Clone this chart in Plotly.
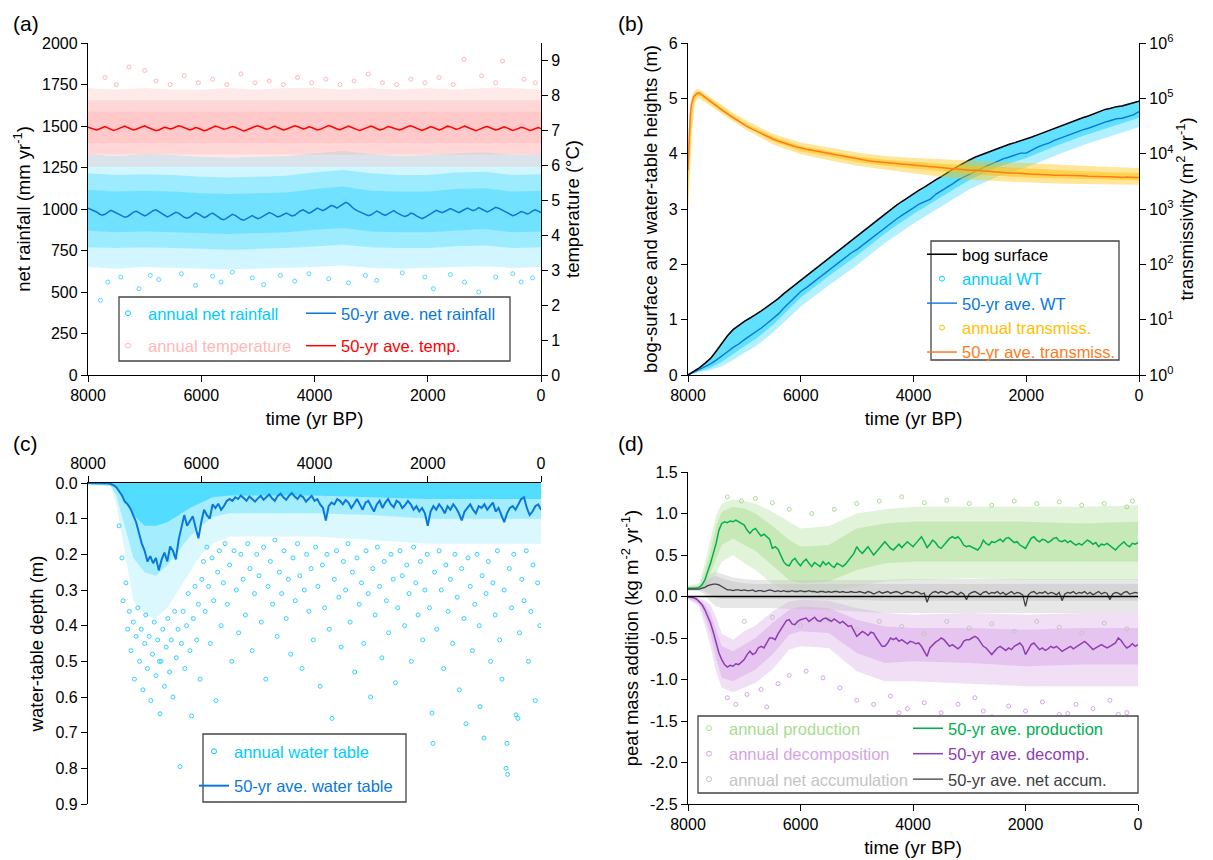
import plotly.graph_objects as go

W, H = 1213, 860
FONT = "Liberation Sans, Arial, sans-serif"

# ---------------- DATA ----------------
years50 = list(range(8000, -1, -50))     # 161 points
years100 = list(range(8000, -1, -100))   # 81 points

# (a) 50-yr average net rainfall (mm/yr)
rain_50yr = [
    1005, 998, 990, 982, 970, 962, 968, 980, 992, 985,
    975, 968, 958, 950, 955, 968, 980, 988, 978, 965,
    958, 966, 978, 990, 995, 985, 972, 960, 952, 960,
    972, 980, 975, 962, 950, 945, 952, 965, 978, 970,
    958, 948, 955, 968, 975, 966, 952, 940, 935, 945,
    958, 968, 962, 950, 938, 932, 940, 952, 960, 950,
    942, 948, 958, 970, 978, 972, 960, 952, 958, 968,
    975, 968, 958, 962, 975, 988, 995, 985, 975, 982,
    995, 1005, 998, 990, 1000, 1012, 1022, 1015, 1005, 1018,
    1030, 1040, 1032, 1015, 1000, 990, 982, 975, 968, 960,
    965, 975, 988, 980, 968, 962, 970, 982, 990, 978,
    968, 960, 955, 962, 975, 970, 958, 948, 942, 950,
    960, 972, 985, 992, 985, 978, 985, 995, 1002, 995,
    985, 978, 988, 998, 1005, 998, 990, 996, 1008, 1000,
    990, 982, 990, 1002, 1010, 1005, 995, 985, 975, 968,
    960, 965, 975, 985, 980, 970, 975, 988, 995, 985,
    978]

# (a) 50-yr average temperature (deg C)
temp_50yr = [
    7.08, 7.05, 7.02, 7.00, 7.03, 7.07, 7.10, 7.06, 7.02, 6.99,
    7.01, 7.05, 7.09, 7.11, 7.07, 7.03, 7.00, 7.02, 7.06, 7.10,
    7.12, 7.08, 7.04, 7.01, 6.98, 7.00, 7.04, 7.08, 7.06, 7.03,
    7.05, 7.09, 7.12, 7.10, 7.06, 7.02, 7.00, 7.03, 7.07, 7.05,
    7.01, 6.98, 7.00, 7.04, 7.08, 7.11, 7.09, 7.05, 7.02, 7.04,
    7.07, 7.10, 7.08, 7.04, 7.00, 6.97, 7.00, 7.04, 7.07, 7.10,
    7.12, 7.09, 7.05, 7.02, 7.04, 7.08, 7.11, 7.07, 7.03, 7.00,
    7.02, 7.06, 7.09, 7.12, 7.10, 7.06, 7.03, 7.05, 7.09, 7.07,
    7.03, 7.00, 7.02, 7.06, 7.10, 7.13, 7.10, 7.06, 7.03, 7.01,
    7.04, 7.08, 7.11, 7.08, 7.04, 7.01, 6.99, 7.02, 7.06, 7.09,
    7.11, 7.08, 7.04, 7.00, 7.02, 7.06, 7.10, 7.08, 7.05, 7.02,
    7.00, 7.03, 7.07, 7.10, 7.12, 7.09, 7.05, 7.01, 6.99, 7.02,
    7.06, 7.09, 7.07, 7.03, 7.00, 7.03, 7.07, 7.11, 7.09, 7.05,
    7.02, 7.04, 7.08, 7.11, 7.08, 7.04, 7.01, 6.98, 7.01, 7.05,
    7.08, 7.10, 7.07, 7.03, 7.00, 7.02, 7.06, 7.09, 7.06, 7.02,
    6.99, 7.01, 7.05, 7.08, 7.06, 7.02, 6.99, 7.01, 7.04, 7.07,
    7.04]

# (a) annual clouds: envelope of the scattered annual values
band_a_t = [8000, 7500, 7000, 6500, 6000, 5500, 5000, 4500, 4000, 3500, 3000, 2500, 2000, 1500, 1000, 500, 0]
rain_outer_lo = [650, 640, 650, 645, 640, 635, 640, 645, 650, 660, 645, 640, 645, 650, 655, 645, 650]
rain_outer_hi = [1330, 1320, 1330, 1325, 1315, 1310, 1315, 1320, 1335, 1350, 1330, 1320, 1325, 1335, 1340, 1325, 1330]
rain_mid_lo = [770, 765, 770, 765, 760, 755, 760, 765, 775, 785, 770, 765, 765, 775, 780, 765, 770]
rain_mid_hi = [1215, 1205, 1210, 1205, 1195, 1190, 1195, 1200, 1220, 1235, 1215, 1205, 1205, 1220, 1225, 1205, 1210]
rain_in_lo = [870, 860, 865, 860, 855, 850, 855, 860, 875, 885, 865, 860, 860, 870, 880, 860, 865]
rain_in_hi = [1115, 1105, 1110, 1105, 1095, 1090, 1095, 1100, 1120, 1135, 1110, 1105, 1105, 1120, 1125, 1105, 1110]
temp_outer_lo = [5.95] * 17
temp_outer_hi = [8.2, 8.15, 8.2, 8.15, 8.15, 8.2, 8.15, 8.2, 8.2, 8.15, 8.2, 8.15, 8.2, 8.15, 8.2, 8.2, 8.15]
temp_mid_lo = [6.3] * 17
temp_mid_hi = [7.85] * 17
temp_in_lo = [6.62] * 17
temp_in_hi = [7.52] * 17
rain_out_t = [7780, 7650, 7420, 7100, 6900, 6750, 6350, 6100, 5800, 5650, 5450, 5100, 4900, 4600, 4350,
              4100, 3750, 3400, 3100, 2900, 2450, 2050, 1900, 1600, 1350, 1100, 800, 500, 350, 150]
rain_out_v = [450, 560, 590, 520, 600, 575, 610, 540, 595, 560, 620, 585, 545, 600, 565,
              610, 580, 555, 600, 570, 615, 590, 520, 605, 560, 500, 590, 610, 560, 585]
temp_out_t = [7700, 7500, 7276, 7000, 6800, 6550, 6300, 6050, 5800, 5550, 5300, 5050, 4800, 4550, 4300, 4050,
              3800, 3550, 3300, 3050, 2800, 2550, 2300, 2050, 1800, 1550, 1360, 1050, 800, 680, 300, 100]
temp_out_v = [8.5, 8.3, 8.8, 8.7, 8.4, 8.3, 8.55, 8.35, 8.45, 8.3, 8.6, 8.35, 8.4, 8.3, 8.5, 8.35,
              8.45, 8.3, 8.4, 8.6, 8.35, 8.3, 8.45, 8.35, 8.5, 8.3, 9.02, 8.55, 8.35, 8.97, 8.45, 8.35]

# (b) bog surface and 50-yr water table heights (m), 100-yr steps
surface_100 = [
    0.00, 0.06, 0.13, 0.21, 0.30, 0.43, 0.58, 0.71, 0.82, 0.90,
    0.97, 1.03, 1.09, 1.16, 1.23, 1.30, 1.38, 1.47, 1.55, 1.63,
    1.72, 1.80, 1.88, 1.96, 2.04, 2.12, 2.20, 2.28, 2.36, 2.44,
    2.52, 2.60, 2.68, 2.76, 2.84, 2.92, 3.00, 3.07, 3.14, 3.21,
    3.27, 3.34, 3.40, 3.47, 3.53, 3.59, 3.66, 3.72, 3.78, 3.84,
    3.89, 3.94, 3.98, 4.02, 4.06, 4.10, 4.14, 4.17, 4.20, 4.23,
    4.26, 4.30, 4.34, 4.38, 4.42, 4.46, 4.50, 4.54, 4.57, 4.61,
    4.65, 4.68, 4.72, 4.76, 4.80, 4.82, 4.85, 4.86, 4.89, 4.91,
    4.95]
wt_50yr_100 = [
    0.00, 0.05, 0.10, 0.15, 0.20, 0.27, 0.34, 0.42, 0.50, 0.56,
    0.64, 0.71, 0.77, 0.85, 0.93, 1.01, 1.10, 1.21, 1.31, 1.42,
    1.51, 1.58, 1.66, 1.74, 1.82, 1.90, 1.98, 2.05, 2.13, 2.21,
    2.27, 2.35, 2.43, 2.51, 2.59, 2.67, 2.74, 2.82, 2.89, 2.95,
    3.02, 3.09, 3.14, 3.18, 3.27, 3.33, 3.40, 3.46, 3.53, 3.58,
    3.64, 3.69, 3.74, 3.78, 3.82, 3.87, 3.91, 3.94, 3.97, 4.01,
    4.01, 4.07, 4.12, 4.16, 4.19, 4.24, 4.28, 4.31, 4.35, 4.39,
    4.43, 4.46, 4.50, 4.53, 4.57, 4.60, 4.63, 4.64, 4.67, 4.70,
    4.76]
band_wt_t = [8000, 7800, 7600, 7400, 7200, 7000, 6800, 6500, 6000, 5500, 5000,
             4500, 4000, 3500, 3000, 2500, 2000, 1500, 1000, 500, 0]
wt_band_hi = [0.0, 0.14, 0.31, 0.6, 0.84, 0.98, 1.1, 1.31, 1.73, 2.13, 2.53,
              2.93, 3.28, 3.6, 3.9, 4.11, 4.27, 4.47, 4.66, 4.83, 4.96]
wt_band_lo = [0.0, 0.07, 0.13, 0.24, 0.38, 0.52, 0.65, 0.9, 1.4, 1.79, 2.16,
              2.56, 2.91, 3.22, 3.53, 3.76, 3.92, 4.13, 4.32, 4.49, 4.65]
wt_band_outer_lo = [0.0, 0.05, 0.09, 0.16, 0.27, 0.4, 0.52, 0.76, 1.24, 1.62, 1.99,
                    2.39, 2.74, 3.05, 3.36, 3.59, 3.75, 3.96, 4.15, 4.32, 4.48]

# (b) transmissivity (log10 of m2/yr)
t_trans = [8000, 7980, 7960, 7940, 7920, 7900, 7850, 7800, 7750, 7700] + list(range(7600, -1, -100))
log_trans_50yr = [
    3.70, 4.35, 4.70, 4.88, 4.98, 5.03, 5.08, 5.10, 5.06, 5.02,
    4.94, 4.86, 4.79, 4.72, 4.65, 4.58, 4.52, 4.46, 4.41, 4.36,
    4.31, 4.27, 4.23, 4.19, 4.16, 4.13, 4.10, 4.08, 4.06, 4.04,
    4.02, 4.00, 3.98, 3.96, 3.94, 3.92, 3.90, 3.89, 3.87, 3.86,
    3.85, 3.84, 3.83, 3.82, 3.81, 3.80, 3.79, 3.78, 3.78, 3.77,
    3.76, 3.75, 3.74, 3.73, 3.72, 3.71, 3.70, 3.70, 3.69, 3.68,
    3.67, 3.67, 3.66, 3.65, 3.65, 3.64, 3.64, 3.63, 3.63, 3.62,
    3.62, 3.61, 3.61, 3.61, 3.60, 3.60, 3.60, 3.59, 3.59, 3.59,
    3.58, 3.58, 3.58, 3.57, 3.58, 3.57, 3.57]
band_tr_t = [8000, 7950, 7900, 7850, 7800, 7600, 7400, 7200, 7000, 6500, 6000, 5500,
             5000, 4500, 4000, 3500, 3000, 2500, 2000, 1500, 1000, 500, 0]
tr_outer_lo = [2.9, 4.0, 4.8, 4.98, 5.0, 4.86, 4.72, 4.58, 4.45, 4.17, 3.99, 3.88,
               3.78, 3.71, 3.65, 3.58, 3.53, 3.50, 3.48, 3.46, 3.45, 3.44, 3.44]
tr_outer_hi = [4.2, 4.95, 5.12, 5.17, 5.16, 5.02, 4.88, 4.74, 4.62, 4.36, 4.2, 4.11,
               4.02, 3.96, 3.92, 3.9, 3.87, 3.85, 3.83, 3.8, 3.78, 3.76, 3.74]
tr_in_lo = [3.2, 4.3, 4.9, 5.03, 5.05, 4.9, 4.76, 4.62, 4.5, 4.23, 4.05, 3.95,
            3.85, 3.78, 3.73, 3.68, 3.63, 3.6, 3.57, 3.55, 3.54, 3.53, 3.52]
tr_in_hi = [3.9, 4.8, 5.06, 5.12, 5.13, 4.98, 4.84, 4.69, 4.56, 4.31, 4.14, 4.04,
            3.95, 3.89, 3.85, 3.82, 3.79, 3.76, 3.73, 3.7, 3.68, 3.66, 3.65]

# (c) 50-yr average water-table depth (m)
wtd_50yr = [
    0, 0, 0, 0, 0, 0, 0, 0.001, 0.003, 0.006,
    0.012, 0.022, 0.035, 0.052, 0.06, 0.072, 0.09, 0.11, 0.14, 0.17,
    0.19, 0.22, 0.205, 0.225, 0.21, 0.245, 0.215, 0.195, 0.22, 0.178,
    0.19, 0.214, 0.16, 0.12, 0.09, 0.12, 0.105, 0.093, 0.125, 0.155,
    0.11, 0.075, 0.09, 0.1, 0.06, 0.07, 0.058, 0.075, 0.065, 0.05,
    0.045, 0.05, 0.04, 0.045, 0.035, 0.043, 0.05, 0.038, 0.045, 0.052,
    0.043, 0.036, 0.047, 0.04, 0.032, 0.043, 0.05, 0.036, 0.03, 0.04,
    0.047, 0.036, 0.028, 0.038, 0.045, 0.034, 0.04, 0.052, 0.043, 0.036,
    0.05, 0.045, 0.06, 0.07, 0.105, 0.065, 0.055, 0.06, 0.045, 0.05,
    0.06, 0.048, 0.055, 0.07, 0.058, 0.045, 0.06, 0.075, 0.055, 0.05,
    0.065, 0.08, 0.06, 0.05, 0.07, 0.055, 0.045, 0.06, 0.068, 0.05,
    0.055, 0.07, 0.062, 0.05, 0.06, 0.075, 0.065, 0.08, 0.07, 0.085,
    0.12, 0.08, 0.065, 0.075, 0.06, 0.07, 0.085, 0.065, 0.075, 0.06,
    0.07, 0.085, 0.105, 0.08, 0.07, 0.06, 0.075, 0.085, 0.065, 0.07,
    0.06, 0.075, 0.065, 0.055, 0.08, 0.07, 0.09, 0.11, 0.085, 0.07,
    0.065, 0.075, 0.06, 0.045, 0.04, 0.07, 0.09, 0.08, 0.065, 0.06,
    0.075]
band_c_t = [8000, 7600, 7500, 7400, 7300, 7200, 7000, 6800, 6600, 6400, 6200, 6000,
            5800, 5500, 5000, 4000, 3000, 2000, 1000, 0]
wtd_dense_lo = [0.004, 0.006, 0.015, 0.035, 0.06, 0.09, 0.12, 0.12, 0.11, 0.09, 0.07, 0.055,
                0.04, 0.035, 0.035, 0.035, 0.04, 0.045, 0.045, 0.045]
wtd_mid_lo = [0.004, 0.008, 0.035, 0.09, 0.15, 0.21, 0.25, 0.26, 0.23, 0.19, 0.15, 0.12,
              0.095, 0.085, 0.085, 0.085, 0.09, 0.1, 0.1, 0.1]
wtd_outer_lo = [0.004, 0.01, 0.06, 0.15, 0.25, 0.33, 0.37, 0.38, 0.35, 0.3, 0.25, 0.2,
                0.17, 0.15, 0.15, 0.15, 0.16, 0.17, 0.17, 0.17]
wtd_pts_t = [7450, 7400, 7380, 7330, 7300, 7270, 7240, 7200, 7180, 7150, 7120, 7090, 7060, 7030, 7000,
             6980, 6950, 6920, 6890, 6860, 6830, 6800, 6770, 6740, 6728, 6710, 6680, 6650, 6620, 6590,
             6560, 6530, 6500, 6470, 6440, 6410, 6375, 6350, 6320, 6290, 6260, 6230, 6200, 6171, 6140,
             6110, 6080, 6050, 6020, 5990,
             5960, 5930, 5900, 5870, 5840, 5810, 5780, 5740, 5710, 5680, 5650, 5610, 5580, 5540, 5500,
             5460, 5420, 5380, 5340, 5300, 5260, 5220, 5180, 5140, 5100, 5060, 5020, 4980, 4940, 4900,
             4860, 4820, 4780, 4740, 4700, 4660, 4620, 4580, 4540, 4500, 4460, 4420, 4380, 4340, 4300,
             4260, 4220, 4180, 4140, 4100, 4060, 4020, 3980, 3940, 3900, 3860, 3820, 3780, 3740, 3690,
             3650, 3610, 3570, 3530, 3490, 3450, 3410, 3370, 3330, 3290, 3250, 3210, 3170, 3130, 3090,
             3050, 3010, 2970, 2930, 2890, 2850, 2810, 2770, 2730, 2690, 2650, 2610, 2570, 2530, 2490,
             2450, 2410, 2370, 2330, 2290, 2250, 2210, 2170, 2130, 2090, 2050, 2010, 1970, 1925, 1907,
             1880, 1840, 1800, 1760, 1720, 1680, 1640, 1600, 1560, 1520, 1480, 1440, 1400, 1360, 1325,
             1290, 1250, 1210, 1170, 1130, 1090, 1077, 1040, 1006, 970, 930, 890, 850, 810, 770,
             730, 690, 650, 618, 600, 590, 560, 520, 480, 442, 407, 380, 340, 300, 260,
             220, 180, 140, 100, 60, 20]
wtd_pts_v = [0.12, 0.21, 0.33, 0.28, 0.41, 0.36, 0.47, 0.39, 0.55, 0.43, 0.35, 0.5, 0.41, 0.58, 0.45,
             0.37, 0.52, 0.43, 0.61, 0.48, 0.39, 0.54, 0.44, 0.5, 0.647, 0.5, 0.41, 0.57, 0.46, 0.38,
             0.53, 0.44, 0.6, 0.36, 0.49, 0.41, 0.795, 0.45, 0.36, 0.52, 0.4, 0.31, 0.47, 0.653, 0.38,
             0.29, 0.44, 0.34, 0.55, 0.27,
             0.22, 0.36, 0.18, 0.29, 0.45, 0.21, 0.33, 0.61, 0.25, 0.19, 0.4, 0.28, 0.17, 0.34, 0.23,
             0.5, 0.19, 0.3, 0.42, 0.2, 0.27, 0.37, 0.17, 0.24, 0.47, 0.31, 0.2, 0.26, 0.39, 0.18,
             0.55, 0.29, 0.22, 0.34, 0.16, 0.43, 0.25, 0.31, 0.19, 0.38, 0.27, 0.48, 0.21, 0.33, 0.17,
             0.26, 0.52, 0.3, 0.2, 0.36, 0.24, 0.44, 0.18, 0.29, 0.57, 0.23, 0.35, 0.2, 0.41, 0.66,
             0.27, 0.19, 0.32, 0.46, 0.22, 0.3, 0.17, 0.39, 0.25, 0.53, 0.21, 0.34, 0.28, 0.45, 0.19,
             0.31, 0.6, 0.24, 0.37, 0.18, 0.29, 0.49, 0.22, 0.33, 0.42, 0.2, 0.27, 0.56, 0.35, 0.19,
             0.26, 0.4, 0.23, 0.31, 0.5, 0.18, 0.28, 0.37, 0.22, 0.44, 0.3, 0.2, 0.35, 0.645, 0.73,
             0.25, 0.41, 0.19, 0.3, 0.52, 0.23, 0.36, 0.27, 0.45, 0.2, 0.32, 0.58, 0.24, 0.38, 0.675,
             0.21, 0.29, 0.47, 0.34, 0.2, 0.4, 0.627, 0.26, 0.715, 0.31, 0.22, 0.5, 0.28, 0.37, 0.19,
             0.44, 0.55, 0.3, 0.8, 0.73, 0.817, 0.24, 0.35, 0.2, 0.65, 0.66, 0.42, 0.27, 0.33, 0.19,
             0.5, 0.36, 0.23, 0.61, 0.28, 0.4]

# (d) 50-yr average peat mass fluxes (kg m-2 yr-1)
prod_50yr = [
    0.10, 0.10, 0.10, 0.10, 0.11, 0.14, 0.20, 0.29, 0.40, 0.52,
    0.64, 0.80, 0.88, 0.90, 0.89, 0.91, 0.90, 0.92, 0.90, 0.88,
    0.86, 0.80, 0.76, 0.80, 0.82, 0.77, 0.73, 0.75, 0.72, 0.69,
    0.58, 0.60, 0.57, 0.50, 0.42, 0.38, 0.37, 0.43, 0.46, 0.41,
    0.37, 0.42, 0.45, 0.40, 0.36, 0.41, 0.39, 0.36, 0.42, 0.38,
    0.41, 0.37, 0.35, 0.40, 0.38, 0.36, 0.39, 0.43, 0.47, 0.52,
    0.60, 0.55, 0.52, 0.56, 0.60, 0.55, 0.50, 0.54, 0.58, 0.63,
    0.66, 0.62, 0.58, 0.56, 0.60, 0.63, 0.59, 0.62, 0.66, 0.63,
    0.60, 0.64, 0.68, 0.72, 0.66, 0.59, 0.63, 0.68, 0.65, 0.60,
    0.58, 0.62, 0.66, 0.70, 0.72, 0.70, 0.72, 0.68, 0.62, 0.60,
    0.61, 0.59, 0.58, 0.56, 0.60, 0.68, 0.64, 0.62, 0.66, 0.65,
    0.67, 0.69, 0.66, 0.70, 0.71, 0.68, 0.65, 0.66, 0.62, 0.60,
    0.58, 0.64, 0.70, 0.72, 0.68, 0.66, 0.69, 0.68, 0.65, 0.67,
    0.70, 0.71, 0.67, 0.66, 0.68, 0.65, 0.67, 0.64, 0.62, 0.64,
    0.62, 0.65, 0.68, 0.66, 0.63, 0.65, 0.60, 0.63, 0.62, 0.64,
    0.61, 0.59, 0.56, 0.60, 0.63, 0.66, 0.62, 0.60, 0.64, 0.63,
    0.65]
decomp_50yr = [
    -0.005, -0.01, -0.015, -0.03, -0.06, -0.10, -0.16, -0.23, -0.32, -0.43,
    -0.56, -0.68, -0.76, -0.82, -0.85, -0.83, -0.84, -0.81, -0.82, -0.79,
    -0.76, -0.70, -0.66, -0.70, -0.68, -0.62, -0.60, -0.62, -0.56, -0.50,
    -0.50, -0.52, -0.45, -0.40, -0.34, -0.29, -0.28, -0.33, -0.34, -0.30,
    -0.28, -0.27, -0.26, -0.30, -0.27, -0.25, -0.29, -0.30, -0.27, -0.26,
    -0.28, -0.30, -0.27, -0.29, -0.32, -0.30, -0.33, -0.36, -0.35, -0.42,
    -0.48, -0.45, -0.42, -0.44, -0.47, -0.43, -0.44, -0.50, -0.55, -0.60,
    -0.60, -0.56, -0.50, -0.52, -0.50, -0.54, -0.52, -0.55, -0.57, -0.54,
    -0.55, -0.57, -0.56, -0.60, -0.66, -0.72, -0.62, -0.58, -0.55, -0.53,
    -0.50, -0.52, -0.56, -0.60, -0.58, -0.60, -0.63, -0.60, -0.54, -0.52,
    -0.52, -0.50, -0.48, -0.50, -0.55, -0.60, -0.62, -0.66, -0.70, -0.66,
    -0.62, -0.60, -0.63, -0.65, -0.62, -0.64, -0.60, -0.58, -0.56, -0.60,
    -0.70, -0.64, -0.58, -0.56, -0.60, -0.64, -0.62, -0.65, -0.63, -0.60,
    -0.62, -0.60, -0.63, -0.66, -0.64, -0.62, -0.60, -0.63, -0.61, -0.58,
    -0.56, -0.54, -0.57, -0.60, -0.64, -0.62, -0.60, -0.58, -0.60, -0.62,
    -0.60, -0.58, -0.56, -0.50, -0.53, -0.58, -0.62, -0.60, -0.57, -0.60,
    -0.58]
netacc_50yr = [
    0.09, 0.09, 0.09, 0.09, 0.09, 0.10, 0.11, 0.13, 0.14, 0.15,
    0.15, 0.14, 0.12, 0.10, 0.08, 0.08, 0.07, 0.08, 0.08, 0.07,
    0.08, 0.07, 0.07, 0.08, 0.06, 0.07, 0.07, 0.06, 0.07, 0.08,
    0.07, 0.06, 0.07, 0.06, 0.07, 0.06, 0.06, 0.07, 0.06, 0.06,
    0.07, 0.06, 0.06, 0.07, 0.06, 0.06, 0.05, 0.06, 0.06, 0.05,
    0.06, 0.05, 0.06, 0.06, 0.05, 0.06, 0.05, 0.05, 0.06, 0.05,
    0.05, 0.06, 0.05, 0.04, 0.06, 0.05, 0.03, 0.05, 0.06, 0.04,
    0.05, 0.06, 0.04, 0.05, 0.06, 0.05, 0.03, 0.05, 0.06, 0.05,
    0.04, 0.06, 0.05, 0.03, 0.04, -0.07, 0.02, 0.05, 0.06, 0.04,
    0.06, 0.05, 0.03, 0.05, 0.06, 0.04, 0.02, 0.05, 0.03, -0.04,
    0.03, 0.05, 0.06, 0.04, 0.02, 0.05, 0.06, 0.03, 0.05, 0.04,
    0.06, 0.03, 0.05, 0.02, 0.04, 0.06, 0.03, 0.05, 0.04, 0.02,
    -0.12, 0.02, 0.05, 0.06, 0.03, 0.05, 0.04, 0.06, 0.03, 0.05,
    0.04, 0.02, 0.05, -0.05, 0.03, 0.05, 0.04, 0.06, 0.03, 0.05,
    0.04, 0.06, 0.03, 0.05, 0.02, 0.04, 0.06, 0.03, 0.05, 0.04,
    -0.04, 0.03, 0.05, 0.04, 0.02, 0.05, 0.06, 0.03, 0.04, 0.05,
    0.04]
band_d_t = [8000, 7800, 7700, 7600, 7500, 7400, 7200, 7000, 6800, 6500, 6200, 6000,
            5500, 5000, 4500, 4000, 3000, 2000, 1000, 0]
prod_in_lo = [0.08, 0.08, 0.12, 0.28, 0.45, 0.62, 0.7, 0.62, 0.55, 0.38, 0.2, 0.16, 0.18, 0.32, 0.4, 0.42, 0.42, 0.42, 0.42, 0.42]
prod_in_hi = [0.12, 0.13, 0.3, 0.55, 0.85, 1.02, 1.08, 1.06, 1.0, 0.85, 0.68, 0.6, 0.62, 0.82, 0.88, 0.9, 0.9, 0.9, 0.88, 0.9]
prod_out_lo = [0.07, 0.07, 0.09, 0.15, 0.28, 0.42, 0.5, 0.4, 0.32, 0.15, 0.05, 0.03, 0.05, 0.12, 0.18, 0.2, 0.22, 0.2, 0.2, 0.2]
prod_out_hi = [0.13, 0.16, 0.4, 0.7, 0.98, 1.12, 1.17, 1.15, 1.12, 1.02, 0.9, 0.82, 0.85, 1.0, 1.05, 1.08, 1.08, 1.08, 1.08, 1.1]
dec_in_hi = [0.0, -0.04, -0.1, -0.2, -0.4, -0.6, -0.66, -0.58, -0.5, -0.32, -0.16, -0.12, -0.14, -0.28, -0.36, -0.38, -0.38, -0.4, -0.38, -0.38]
dec_in_lo = [-0.02, -0.09, -0.25, -0.45, -0.75, -0.98, -1.02, -0.95, -0.88, -0.7, -0.46, -0.42, -0.44, -0.68, -0.8, -0.78, -0.8, -0.84, -0.82, -0.82]
dec_out_hi = [0.0, -0.02, -0.05, -0.1, -0.25, -0.45, -0.52, -0.42, -0.35, -0.18, -0.06, -0.04, -0.05, -0.14, -0.2, -0.22, -0.2, -0.22, -0.2, -0.2]
dec_out_lo = [-0.03, -0.12, -0.35, -0.6, -0.9, -1.1, -1.15, -1.1, -1.04, -0.88, -0.64, -0.6, -0.62, -0.9, -1.02, -1.02, -1.05, -1.08, -1.08, -1.08]
acc_in_lo = [0.08, 0.08, 0.06, 0.02, -0.02, -0.03, -0.03, -0.03, -0.03, -0.03, -0.03, -0.03, -0.04, -0.04, -0.05, -0.05, -0.05, -0.05, -0.05, -0.05]
acc_in_hi = [0.1, 0.11, 0.16, 0.22, 0.25, 0.22, 0.18, 0.16, 0.15, 0.15, 0.15, 0.15, 0.15, 0.15, 0.15, 0.15, 0.15, 0.15, 0.15, 0.15]
acc_out_lo = [0.07, 0.07, 0.02, -0.06, -0.12, -0.14, -0.14, -0.14, -0.14, -0.14, -0.15, -0.15, -0.16, -0.18, -0.2, -0.2, -0.2, -0.2, -0.2, -0.2]
acc_out_hi = [0.11, 0.13, 0.2, 0.27, 0.3, 0.27, 0.23, 0.21, 0.2, 0.2, 0.2, 0.2, 0.2, 0.2, 0.2, 0.21, 0.21, 0.21, 0.21, 0.21]
prod_pts_t = [7300, 7050, 6800, 6500, 6200, 5800, 5400, 5000, 4600, 4200, 3800, 3400, 3000, 2600, 2200, 1800, 1400, 1000, 600, 200, 100]
prod_pts_v = [1.2, 1.15, 1.18, 1.13, 1.05, 1.0, 1.05, 1.12, 1.15, 1.2, 1.13, 1.16, 1.12, 1.1, 1.15, 1.12, 1.14, 1.1, 1.12, 1.08, 1.15]
dec_pts_t = [7300, 7150, 6950, 6700, 6400, 6200, 5900, 5600, 5300, 5000, 4700, 4400, 4100, 3800, 3500, 3200,
             2900, 2600, 2300, 2000, 1700, 1400, 1100, 800, 500, 200, 6600, 4250, 2750, 1250, 350]
dec_pts_v = [-1.22, -1.3, -1.18, -1.12, -1.05, -0.95, -0.9, -0.98, -1.1, -1.25, -1.3, -1.2, -1.35, -1.28, -1.4, -1.3,
             -1.22, -1.45, -1.32, -1.38, -1.27, -1.42, -1.3, -1.35, -1.25, -1.4, -1.33, -1.4, -1.38, -1.41, -1.42]
acc_pts_t = [7000, 6500, 6000, 5500, 5000, 4600, 4200, 3800, 3400, 3000, 2600, 2200, 1800, 1400, 1000, 600, 200]
acc_pts_v = [-0.3, -0.25, -0.35, -0.28, -0.4, -0.3, -0.36, -0.45, -0.3, -0.38, -0.33, -0.42, -0.3, -0.37, -0.44, -0.32, -0.39]

time_ticks = [8000, 6000, 4000, 2000, 0]

# ---------------- COLOURS ----------------
CYAN = '#00CCFF'
BLUE = '#0A78D8'
PINK = '#FFB8B8'
RED = '#FF0000'
GOLD = '#FFC000'
ORANGE = '#FF7A1A'
LGREEN = '#A8DC90'
GREEN = '#00B050'
LPURPLE = '#D6A4E6'
PURPLE = '#8E3CB4'
LGRAY = '#C4C4C4'
DGRAY = '#404040'

fig = go.Figure()


def band(t, lo, hi, rgba, xa, ya):
    fig.add_trace(go.Scatter(
        x=list(t) + list(t)[::-1], y=list(hi) + list(lo)[::-1], mode='lines',
        line=dict(width=0), fill='toself', fillcolor=rgba, hoverinfo='skip',
        showlegend=False, xaxis=xa, yaxis=ya))


def pts(t, v, color, xa, ya, size=4):
    fig.add_trace(go.Scatter(
        x=t, y=v, mode='markers', hoverinfo='skip', showlegend=False,
        marker=dict(symbol='circle-open', size=size, color=color, line=dict(width=1)),
        xaxis=xa, yaxis=ya))


def line(t, v, color, xa, ya, width=1.6, name=None, legend=None, rank=None):
    fig.add_trace(go.Scatter(
        x=t, y=v, mode='lines', line=dict(color=color, width=width), hoverinfo='skip',
        name=name, showlegend=name is not None, legend=legend, legendrank=rank,
        legendgroup=name, xaxis=xa, yaxis=ya))


def leg_marker(name, color, legend, rank):
    fig.add_trace(go.Scatter(
        x=[None], y=[None], mode='markers', name=name, legend=legend, legendrank=rank,
        legendgroup=name, showlegend=True,
        marker=dict(symbol='circle-open', size=5, color=color, line=dict(width=1))))


def lab(text, color):
    return '<span style="color:%s">%s</span>' % (color, text)


# ---- (a) ----
band(band_a_t, temp_outer_lo, temp_outer_hi, 'rgba(255,160,160,0.22)', 'x', 'y2')
band(band_a_t, temp_mid_lo, temp_mid_hi, 'rgba(255,160,160,0.25)', 'x', 'y2')
band(band_a_t, temp_in_lo, temp_in_hi, 'rgba(255,160,160,0.25)', 'x', 'y2')
pts(temp_out_t, temp_out_v, PINK, 'x', 'y2')
band(band_a_t, rain_outer_lo, rain_outer_hi, 'rgba(0,204,255,0.18)', 'x', 'y')
band(band_a_t, rain_mid_lo, rain_mid_hi, 'rgba(0,204,255,0.25)', 'x', 'y')
band(band_a_t, rain_in_lo, rain_in_hi, 'rgba(0,204,255,0.28)', 'x', 'y')
pts(rain_out_t, rain_out_v, '#55D8FF', 'x', 'y')
line(years50, rain_50yr, BLUE, 'x', 'y', 1.5, lab('50-yr ave. net rainfall', BLUE), 'legend2', 1)
line(years50, temp_50yr, RED, 'x', 'y2', 1.5, lab('50-yr ave. temp.', RED), 'legend2', 2)
leg_marker(lab('annual net rainfall', CYAN), CYAN, 'legend', 1)
leg_marker(lab('annual temperature', PINK), PINK, 'legend', 2)

# ---- (b) ----
band(band_wt_t, wt_band_outer_lo, wt_band_hi, 'rgba(0,204,255,0.3)', 'x2', 'y3')
band(band_wt_t, wt_band_lo, wt_band_hi, 'rgba(0,204,255,0.45)', 'x2', 'y3')
band(band_tr_t, [10 ** v for v in tr_outer_lo], [10 ** v for v in tr_outer_hi], 'rgba(255,192,0,0.4)', 'x2', 'y4')
band(band_tr_t, [10 ** v for v in tr_in_lo], [10 ** v for v in tr_in_hi], 'rgba(255,192,0,0.5)', 'x2', 'y4')
line(years100, wt_50yr_100, BLUE, 'x2', 'y3', 1.4, lab('50-yr ave. WT', BLUE), 'legend3', 3)
line(t_trans, [10 ** v for v in log_trans_50yr], ORANGE, 'x2', 'y4', 1.5, lab('50-yr ave. transmiss.', ORANGE), 'legend3', 5)
line(years100, surface_100, 'black', 'x2', 'y3', 1.5, lab('bog surface', 'black'), 'legend3', 1)
leg_marker(lab('annual WT', CYAN), CYAN, 'legend3', 2)
leg_marker(lab('annual transmiss.', GOLD), GOLD, 'legend3', 4)

# ---- (c) ----
band(band_c_t, [0] * len(band_c_t), wtd_outer_lo, 'rgba(0,204,255,0.14)', 'x3', 'y5')
band(band_c_t, [0] * len(band_c_t), wtd_mid_lo, 'rgba(0,204,255,0.25)', 'x3', 'y5')
band(band_c_t, [0] * len(band_c_t), wtd_dense_lo, 'rgba(0,204,255,0.5)', 'x3', 'y5')
pts(wtd_pts_t, wtd_pts_v, '#33D0FF', 'x3', 'y5')
line(years50, wtd_50yr, BLUE, 'x3', 'y5', 2, lab('50-yr ave. water table', BLUE), 'legend4', 2)
leg_marker(lab('annual water table', CYAN), CYAN, 'legend4', 1)

# ---- (d) ----
band(band_d_t, prod_out_lo, prod_out_hi, 'rgba(168,220,144,0.35)', 'x4', 'y6')
band(band_d_t, prod_in_lo, prod_in_hi, 'rgba(168,220,144,0.45)', 'x4', 'y6')
pts(prod_pts_t, prod_pts_v, LGREEN, 'x4', 'y6')
band(band_d_t, dec_out_lo, dec_out_hi, 'rgba(214,164,230,0.35)', 'x4', 'y6')
band(band_d_t, dec_in_lo, dec_in_hi, 'rgba(214,164,230,0.45)', 'x4', 'y6')
pts(dec_pts_t, dec_pts_v, LPURPLE, 'x4', 'y6')
band(band_d_t, acc_out_lo, acc_out_hi, 'rgba(196,196,196,0.4)', 'x4', 'y6')
band(band_d_t, acc_in_lo, acc_in_hi, 'rgba(196,196,196,0.5)', 'x4', 'y6')
pts(acc_pts_t, acc_pts_v, LGRAY, 'x4', 'y6')
line(years50, prod_50yr, GREEN, 'x4', 'y6', 1.5, lab('50-yr ave. production', GREEN), 'legend6', 1)
line(years50, decomp_50yr, PURPLE, 'x4', 'y6', 1.5, lab('50-yr ave. decomp.', PURPLE), 'legend6', 2)
line(years50, netacc_50yr, DGRAY, 'x4', 'y6', 1.3, lab('50-yr ave. net accum.', DGRAY), 'legend6', 3)
leg_marker(lab('annual production', LGREEN), LGREEN, 'legend5', 1)
leg_marker(lab('annual decomposition', LPURPLE), LPURPLE, 'legend5', 2)
leg_marker(lab('annual net accumulation', LGRAY), LGRAY, 'legend5', 3)

# ---------------- LAYOUT ----------------
def X(px):
    return px / W


def Y(py):
    return 1 - py / H


ax = dict(showline=True, linecolor='black', linewidth=1.3, ticks='outside', ticklen=6,
          tickwidth=1.3, tickcolor='black', showgrid=False, zeroline=False, automargin=False,
          tickfont=dict(size=16, family=FONT, color='black'),
          title_font=dict(size=18.5, family=FONT, color='black'))

xa_common = dict(ax, range=[8000, 0], tickvals=time_ticks, ticktext=[str(v) for v in time_ticks])

dom_top = [Y(375), Y(43)]
lg = dict(xanchor='left', yanchor='top', bgcolor='rgba(0,0,0,0)', borderwidth=0,
          font=dict(size=16.5, family=FONT), itemwidth=30)

fig.update_layout(
    width=W, height=H, margin=dict(l=0, r=0, t=0, b=0, autoexpand=False),
    paper_bgcolor='white', plot_bgcolor='rgba(0,0,0,0)',
    font=dict(family=FONT, color='black'),
    xaxis=dict(xa_common, domain=[X(88), X(541)], anchor='y', title=dict(text='time (yr BP)', standoff=8)),
    yaxis=dict(ax, domain=dom_top, anchor='x', range=[0, 2000], tickvals=list(range(0, 2001, 250)),
               title=dict(text='net rainfall (mm yr<sup>-1</sup>)', standoff=6)),
    yaxis2=dict(ax, overlaying='y', side='right', anchor='x', range=[0, 9.486], tickvals=list(range(0, 10)),
                title=dict(text='temperature (°C)', standoff=6)),
    xaxis2=dict(xa_common, domain=[X(688), X(1139)], anchor='y3', title=dict(text='time (yr BP)', standoff=8)),
    yaxis3=dict(ax, domain=dom_top, anchor='x2', range=[0, 6], tickvals=list(range(0, 7)),
                title=dict(text='bog-surface and water-table heights (m)', standoff=6)),
    yaxis4=dict(ax, overlaying='y3', side='right', anchor='x2', type='log', range=[0, 6],
                tickvals=[10 ** k for k in range(7)],
                ticktext=['10<sup>%d</sup>' % k for k in range(7)],
                title=dict(text='transmissivity (m<sup>2</sup> yr<sup>-1</sup>)', standoff=6)),
    xaxis3=dict(xa_common, domain=[X(88), X(541)], anchor='y5', side='top'),
    yaxis5=dict(ax, domain=[Y(804), Y(483)], anchor='x3', range=[0.9, 0],
                tickvals=[k / 10 for k in range(10)], ticktext=['%.1f' % (k / 10) for k in range(10)],
                title=dict(text='water-table depth (m)', standoff=6)),
    xaxis4=dict(xa_common, domain=[X(688), X(1138)], anchor='y6', title=dict(text='time (yr BP)', standoff=8)),
    yaxis6=dict(ax, domain=[Y(804), Y(472)], anchor='x4', range=[-2.5, 1.5],
                tickvals=[-2.5, -2.0, -1.5, -1.0, -0.5, 0.0, 0.5, 1.0, 1.5],
                ticktext=['-2.5', '-2.0', '-1.5', '-1.0', '-0.5', '0.0', '0.5', '1.0', '1.5'],
                title=dict(text='peat mass addition (kg m<sup>-2</sup> yr<sup>-1</sup>)', standoff=6)),
    legend=dict(lg, x=X(108), y=Y(296), tracegroupgap=8),
    legend2=dict(lg, x=X(301), y=Y(296), tracegroupgap=8),
    legend3=dict(lg, x=X(922), y=Y(237), tracegroupgap=0),
    legend4=dict(lg, x=X(194), y=Y(734), tracegroupgap=10),
    legend5=dict(lg, x=X(689), y=Y(711), tracegroupgap=1),
    legend6=dict(lg, x=X(908), y=Y(711), tracegroupgap=1),
    shapes=[
        dict(type='rect', xref='paper', yref='paper', x0=X(119), x1=X(510), y0=Y(361), y1=Y(297),
             line=dict(color='#444', width=1.3), fillcolor='white', layer='above'),
        dict(type='rect', xref='paper', yref='paper', x0=X(931), x1=X(1119), y0=Y(360), y1=Y(241),
             line=dict(color='#444', width=1.3), fillcolor='white', layer='above'),
        dict(type='rect', xref='paper', yref='paper', x0=X(203), x1=X(406), y0=Y(802), y1=Y(734),
             line=dict(color='#444', width=1.3), fillcolor='white', layer='above'),
        dict(type='rect', xref='paper', yref='paper', x0=X(698), x1=X(1138), y0=Y(793), y1=Y(716),
             line=dict(color='#444', width=1.3), fillcolor='white', layer='above'),
        dict(type='line', xref='x4 domain', yref='y6', x0=0, x1=1, y0=0, y1=0,
             line=dict(color='black', width=1.3), layer='above'),
    ],
    annotations=[
        dict(text='(a)', x=X(11), y=Y(23), xref='paper', yref='paper', xanchor='left', yanchor='middle',
             showarrow=False, font=dict(size=21, family=FONT)),
        dict(text='(b)', x=X(616), y=Y(23), xref='paper', yref='paper', xanchor='left', yanchor='middle',
             showarrow=False, font=dict(size=21, family=FONT)),
        dict(text='(c)', x=X(11), y=Y(443), xref='paper', yref='paper', xanchor='left', yanchor='middle',
             showarrow=False, font=dict(size=21, family=FONT)),
        dict(text='(d)', x=X(616), y=Y(443), xref='paper', yref='paper', xanchor='left', yanchor='middle',
             showarrow=False, font=dict(size=21, family=FONT)),
    ],
)

# remove the browser's default 8 px page margin so the figure sits at the window's corner
fig.write_html("out.html", config={'displayModeBar': False},
               post_script="document.body.style.margin='0';document.body.style.padding='0';")
